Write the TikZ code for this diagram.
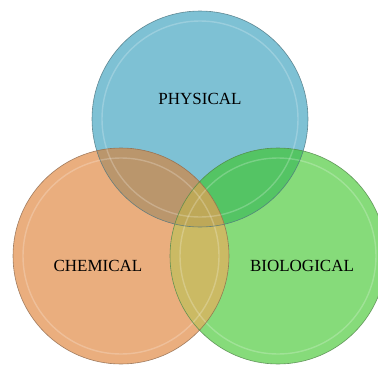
\documentclass[tikz,border=0pt]{standalone}
\usepackage{fontspec}
\setmainfont{Liberation Serif}
\definecolor{physblue}{RGB}{126, 193, 212}
\definecolor{chemorange}{RGB}{234, 174, 126}
\definecolor{biogreen}{RGB}{134, 219, 122}
\definecolor{physchem}{RGB}{186, 150, 108}
\definecolor{physbio}{RGB}{84, 196, 100}
\definecolor{chembio}{RGB}{203, 186, 100}
\definecolor{allthree}{RGB}{190, 168, 88}
\usetikzlibrary{positioning}

\begin{document}
\begin{tikzpicture}[x=1pt, y=-1pt,
    venn/.style={circle, minimum size=216pt, inner sep=0pt},
    rim/.style={draw=#1, line width=0.6pt, draw opacity=0.8},
    shine/.style={draw=white, line width=1.4pt, draw opacity=0.22},
    label/.style={font=\fontsize{17}{20}\selectfont, text=black}]
  \useasboundingbox (0,0) rectangle (378,365);
  \clip (0,0) rectangle (378,365);

  % Circles
  \node[venn, fill=physblue] (phys) at (200, 119) {};
  \node[venn, fill=chemorange] (chem) at (121, 256) {};
  \node[venn, fill=biogreen] (bio) at (278, 256) {};

  % Overlaps
  \begin{scope}
    \clip (phys.center) circle (108);
    \fill[physchem] (chem.center) circle (108);
    \fill[physbio] (bio.center) circle (108);
  \end{scope}
  \begin{scope}
    \clip (chem.center) circle (108);
    \fill[chembio] (bio.center) circle (108);
    \clip (bio.center) circle (108);
    \fill[allthree] (phys.center) circle (108);
  \end{scope}

  % Bevel rings
  \draw[shine] (phys.center) circle (98);
  \draw[shine] (chem.center) circle (98);
  \draw[shine] (bio.center) circle (98);
  \draw[rim=physblue!60!black] (phys.center) circle (108);
  \draw[rim=chemorange!60!black] (chem.center) circle (108);
  \draw[rim=biogreen!60!black] (bio.center) circle (108);

  % Labels
  \node[label] (physlabel) at (200, 99) {PHYSICAL};
  \node[label] (chemlabel) at (98, 265.5) {CHEMICAL};
  \node[label] (biolabel) at (302, 265.5) {BIOLOGICAL};
\end{tikzpicture}
\end{document}
